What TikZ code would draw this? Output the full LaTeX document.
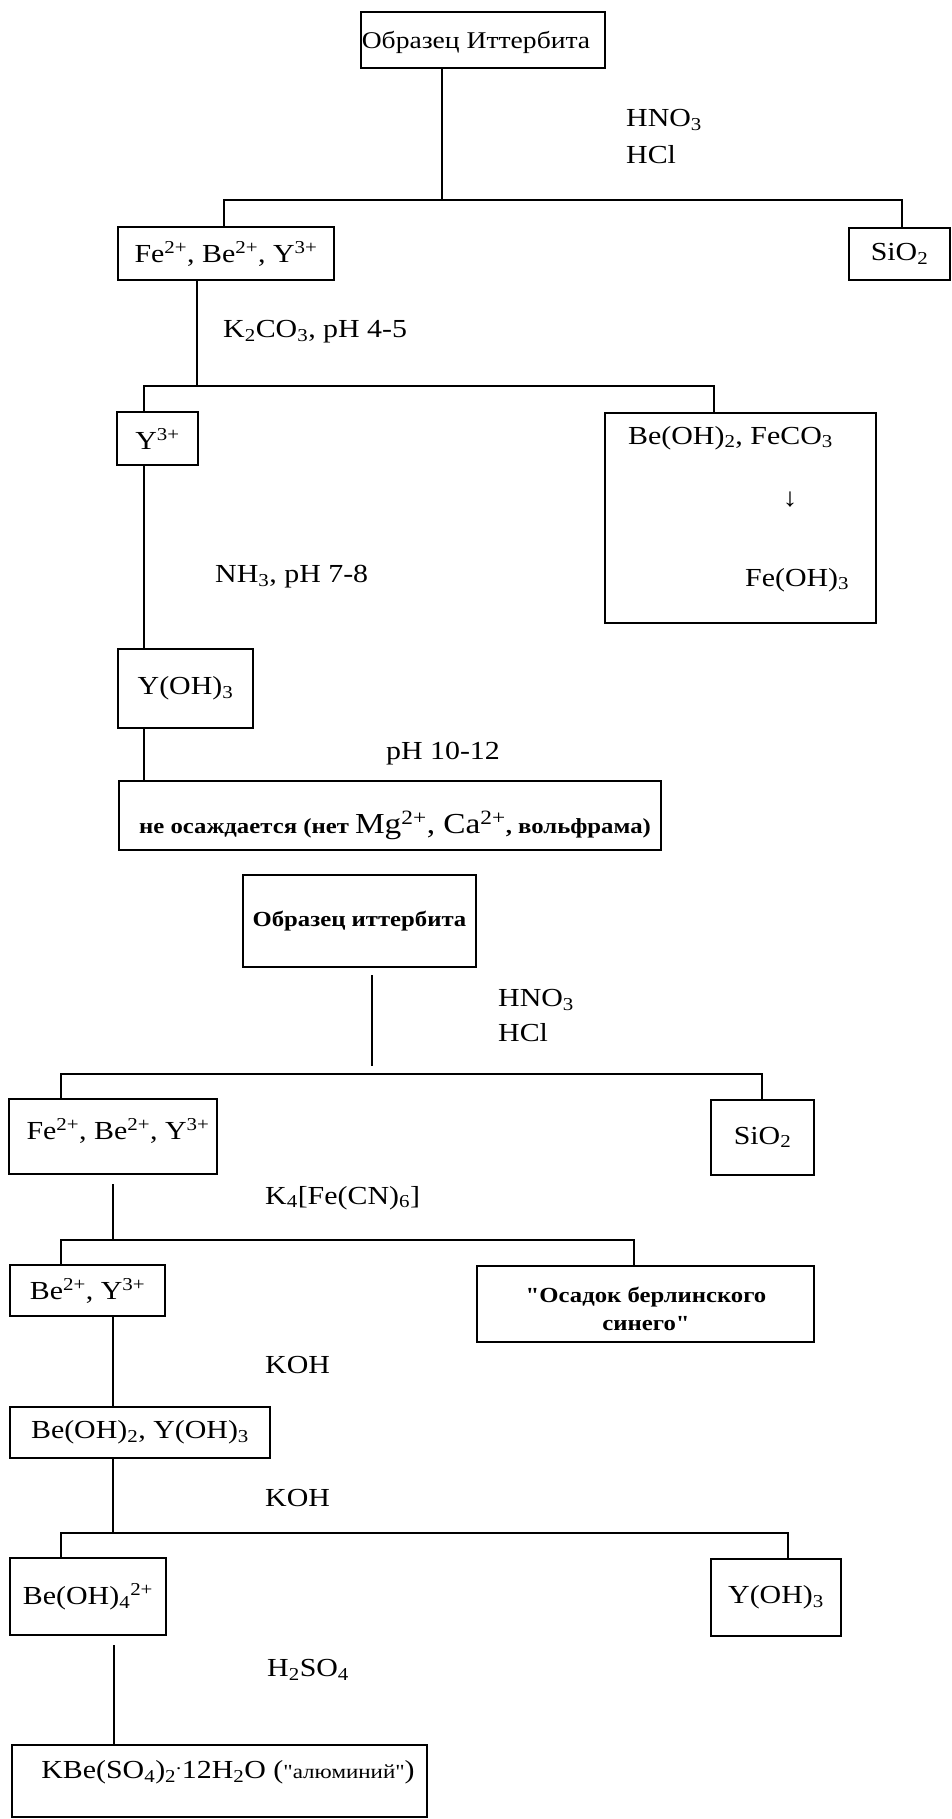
\documentclass[tikz,border=0pt]{standalone}
\usepackage{fontspec}
\setmainfont{Liberation Serif}[FakeStretch=1.15, Ligatures=TeXOff]
\newcommand\fsreg{\fontsize{26}{30}\selectfont}
\newcommand\fsbold{\fontsize{21.5}{28}\selectfont\bfseries}
\begin{document}
\begin{tikzpicture}[x=1pt,y=-1pt,
  box/.style={draw, line width=2pt, inner sep=0pt, font=\fsreg},
  conn/.style={line width=1.7pt},
  lbl/.style={inner sep=0pt, font=\fsreg},
  bl/.style={inner sep=0pt, font=\fsbold, align=center}]
\useasboundingbox (0,0) rectangle (951,1819);
% ---------- upper scheme ----------
\node[box, minimum width=244pt, minimum height=56pt] (top) at (483,40) {};
\node[lbl, font=\fontsize{24}{28}\selectfont] (topt) at (476,42) {Образец Иттербита};
\node[lbl, anchor=west] (hno1) at (626,120) {HNO\textsubscript{3}};
\node[lbl, anchor=west] (hcl1) at (626,155) {HCl};
\node[box, minimum width=216pt, minimum height=53pt] (fe1) at (226,253.5) {Fe\textsuperscript{2+}, Be\textsuperscript{2+}, Y\textsuperscript{3+}};
\node[box, minimum width=101pt, minimum height=52pt] (sio1) at (899.5,254) {SiO\textsubscript{2}};
\coordinate (j1) at (442,200);
\coordinate (b1l) at (224,200);
\coordinate (b1r) at (902,200);
\draw[conn] (top.south -| j1) -- (j1);
\draw[conn] (fe1.north -| b1l) |- (b1r) -- (sio1.north -| b1r);
\node[lbl, anchor=west] (k2co3) at (223,332) {K\textsubscript{2}CO\textsubscript{3}, pH 4-5};
\node[box, minimum width=81pt, minimum height=53pt] (y3) at (157.5,438.5) {Y\textsuperscript{3+}};
\node[box, minimum width=271pt, minimum height=210pt] (beoh) at (740.5,518) {};
\node[lbl, anchor=west] (beoht) at (628,438) {Be(OH)\textsubscript{2}, FeCO\textsubscript{3}};
\node[lbl] (arr) at (790,500) {↓};
\node[lbl, anchor=west] (feoh) at (745,580) {Fe(OH)\textsubscript{3}};
\coordinate (j2) at (197,386);
\coordinate (b2l) at (144,386);
\coordinate (b2r) at (714,386);
\draw[conn] (fe1.south -| j2) -- (j2);
\draw[conn] (y3.north -| b2l) |- (b2r) -- (beoh.north -| b2r);
\node[lbl, anchor=west] (nh3) at (215,577) {NH\textsubscript{3}, pH 7-8};
\node[box, minimum width=135pt, minimum height=79pt] (yoh1) at (185.5,688.5) {Y(OH)\textsubscript{3}};
\draw[conn] (y3.south -| b2l) -- (yoh1.north -| b2l);
\node[lbl] (ph) at (443,754) {pH 10-12};
\node[box, minimum width=542pt, minimum height=69pt] (neos) at (390,815.5) {};
\node[bl] (neost) at (395,825) {не осаждается (нет {\fsreg\mdseries\fontsize{29}{30}\selectfont Mg\textsuperscript{2+}, Ca\textsuperscript{2+}}, вольфрама)};
\draw[conn] (yoh1.south -| b2l) -- (neos.north -| b2l);
% ---------- lower scheme ----------
\node[box, minimum width=233pt, minimum height=92pt, font=\fsbold] (obr2) at (359.5,921) {Образец иттербита};
\node[lbl, anchor=west] (hno2) at (498,1000) {HNO\textsubscript{3}};
\node[lbl, anchor=west] (hcl2) at (498,1033) {HCl};
\node[box, minimum width=208pt, minimum height=75pt] (fe2) at (113,1136.5) {};
\node[lbl] (fe2t) at (118,1131) {Fe\textsuperscript{2+}, Be\textsuperscript{2+}, Y\textsuperscript{3+}};
\node[box, minimum width=103pt, minimum height=75pt] (sio2) at (762.5,1137.5) {SiO\textsubscript{2}};
\coordinate (j3) at (372,1074);
\coordinate (b3l) at (61,1074);
\coordinate (b3r) at (762,1074);
\draw[conn, shorten <=7pt, shorten >=8pt] (obr2.south -| j3) -- (j3);
\draw[conn] (fe2.north -| b3l) |- (b3r) -- (sio2.north -| b3r);
\node[lbl, anchor=west] (k4) at (265,1198) {K\textsubscript{4}[Fe(CN)\textsubscript{6}]};
\node[box, minimum width=155pt, minimum height=51pt] (bey) at (87.5,1290.5) {Be\textsuperscript{2+}, Y\textsuperscript{3+}};
\node[box, minimum width=337pt, minimum height=76pt] (osad) at (645.5,1304) {};
\node[bl] (osadt) at (646,1309) {"Осадок берлинского\\синего"};
\coordinate (j4) at (113,1240);
\coordinate (b4l) at (61,1240);
\coordinate (b4r) at (634,1240);
\draw[conn, shorten <=9pt] (fe2.south -| j4) -- (j4);
\draw[conn] (bey.north -| b4l) |- (b4r) -- (osad.north -| b4r);
\node[lbl, anchor=west] (koh1) at (265,1365) {KOH};
\node[box, minimum width=260pt, minimum height=51pt] (beyoh) at (140,1432.5) {Be(OH)\textsubscript{2}, Y(OH)\textsubscript{3}};
\draw[conn] (bey.south -| j4) -- (beyoh.north -| j4);
\node[lbl, anchor=west] (koh2) at (265,1498) {KOH};
\node[box, minimum width=156pt, minimum height=77pt] (beoh4) at (88,1596.5) {Be(OH)\textsubscript{4}\textsuperscript{2+}};
\node[box, minimum width=130pt, minimum height=77pt] (yoh2) at (776,1597.5) {Y(OH)\textsubscript{3}};
\coordinate (j5) at (113,1533);
\coordinate (b5l) at (61,1533);
\coordinate (b5r) at (788,1533);
\draw[conn] (beyoh.south -| j5) -- (j5);
\draw[conn] (beoh4.north -| b5l) |- (b5r) -- (yoh2.north -| b5r);
\node[lbl, anchor=west] (h2so4) at (267,1670) {H\textsubscript{2}SO\textsubscript{4}};
\node[box, minimum width=415pt, minimum height=72pt] (kbe) at (219.5,1781) {};
\node[lbl] (kbet) at (228,1772) {KBe(SO\textsubscript{4})\textsubscript{2}\textsuperscript{.}12H\textsubscript{2}O ({\fontsize{20}{22}\selectfont "алюминий"})};
\coordinate (j6) at (114,1700);
\draw[conn, shorten <=9pt] (beoh4.south -| j6) -- (kbe.north -| j6);
\end{tikzpicture}
\end{document}
